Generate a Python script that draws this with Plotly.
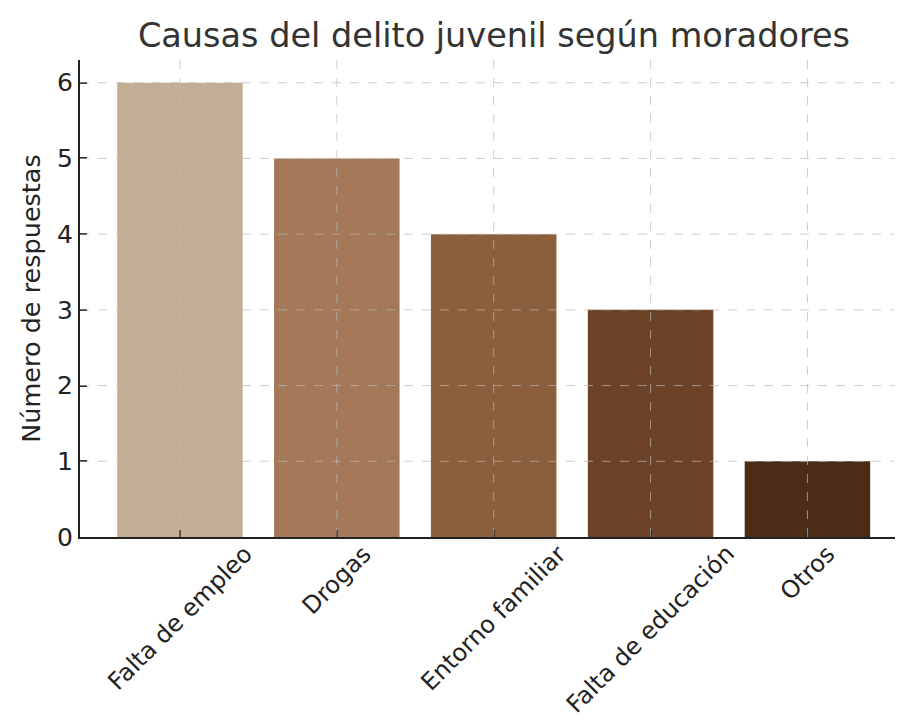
import plotly.graph_objects as go

categories = ["Falta de empleo", "Drogas", "Entorno familiar", "Falta de educación", "Otros"]
values = [6, 5, 4, 3, 1]
colors = ["#C4AD95", "#A47858", "#8B5E3C", "#6B4226", "#4A2C17"]
y_ticks = [0, 1, 2, 3, 4, 5, 6]

FONT = "DejaVu Sans"
idx = list(range(len(categories)))

fig = go.Figure()
fig.add_trace(go.Bar(
    x=idx, y=values, marker_color=colors, width=0.8,
    marker_line_width=0, showlegend=False, hoverinfo="skip",
))

x_range = [-0.637, 4.59]
y_range = [0, 6.3]

# dashed grid drawn above the bars (as in the reference)
grid_line = dict(color="rgba(185,185,185,0.7)", width=1, dash="dash")
shapes = []
for t in y_ticks[1:]:
    shapes.append(dict(type="line", xref="paper", yref="y", x0=0, x1=1, y0=t, y1=t,
                       line=grid_line, layer="above"))
for i in idx:
    shapes.append(dict(type="line", xref="x", yref="paper", x0=i, x1=i, y0=0, y1=1,
                       line=grid_line, layer="above"))

annotations = []
for i, c in zip(idx, categories):
    annotations.append(dict(x=i, y=0, xref="x", yref="y", text=c, showarrow=False,
                            textangle=-45, xanchor="center", yanchor="top", yshift=0,
                            font=dict(family=FONT, size=24, color="#222222")))

# the page body adds an 8px offset, so the figure is 8px smaller than the window
fig.update_layout(
    width=895, height=714,
    margin=dict(l=72, r=3, t=52, b=185, autoexpand=False),
    plot_bgcolor="white", paper_bgcolor="white",
    title=dict(text="Causas del delito juvenil según moradores", x=0.543, xanchor="center",
               y=0.962, yanchor="middle",
               font=dict(family=FONT, size=33.5, color="#333333")),
    xaxis=dict(range=x_range, tickvals=idx, ticktext=[""] * len(idx), showgrid=False,
               zeroline=False, showline=True, linecolor="#222222", linewidth=2,
               ticks="inside", ticklen=7, tickwidth=1.5, tickcolor="#222222",
               automargin=False),
    yaxis=dict(range=y_range, tickvals=y_ticks, showgrid=False, zeroline=False,
               showline=True, linecolor="#222222", linewidth=2,
               ticks="inside", ticklen=7, tickwidth=1.5, tickcolor="#222222",
               tickfont=dict(family=FONT, size=25, color="#222222"),
               automargin=False,
               title=dict(text="Número de respuestas", standoff=9,
                          font=dict(family=FONT, size=25.5, color="#222222"))),
    shapes=shapes, annotations=annotations,
    bargap=0.2,
)

fig.write_html("out.html")
